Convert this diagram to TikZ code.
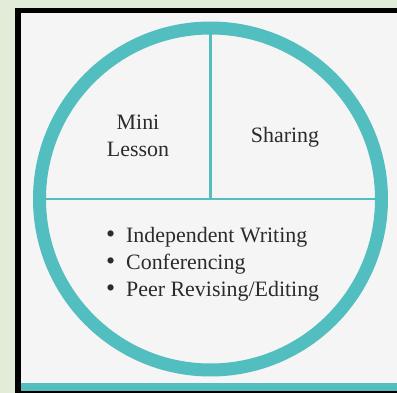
\documentclass[tikz,border=0pt]{standalone}
\usepackage{fontspec}
\setmainfont{Liberation Serif}
\definecolor{leafgreen}{HTML}{E1EDD9}
\definecolor{panelgray}{HTML}{F5F5F5}
\definecolor{ringteal}{HTML}{52BEBF}
\definecolor{inkgray}{HTML}{2B2B2B}
\newcommand{\dotitem}{\makebox[20bp][l]{\raisebox{-0.5bp}{\fontsize{26}{26}\selectfont\textbullet}}}
\tikzset{
  ring/.style={draw=ringteal, line width=13bp},
  divider/.style={draw=ringteal, line width=2.5bp},
  label/.style={text=inkgray, font=\fontsize{22}{26}\selectfont, align=center, inner sep=0pt},
}
\begin{document}
\begin{tikzpicture}[x=1bp, y=1bp]
  \fill[leafgreen] (0,0) rectangle (397,393);
  \useasboundingbox (0,0) rectangle (397,393);
  % frame and panel
  \fill[black] (15,0) rectangle (397,385);
  \fill[panelgray] (21,2) rectangle (397,380);
  \fill[ringteal] (21,2) rectangle (397,10);
  % the circle
  \coordinate (c) at (210.5,194);
  \draw[ring] (c) circle (171);
  \coordinate (top) at (210.5,358.5);
  \coordinate (left) at (46,194);
  \coordinate (right) at (375,194);
  \draw[divider] (left) -- (right);
  \draw[divider] (c) -- (top);
  % texts
  \node[label] (mini) at (138,257) {Mini\\[1pt]Lesson};
  \node[label] (sharing) at (285,256) {Sharing};
  \node[label, align=left, anchor=west] (work) at (106,129)
    {\dotitem Independent Writing\\[1pt]
     \dotitem Conferencing\\[1pt]
     \dotitem Peer Revising/Editing};
\end{tikzpicture}
\end{document}
